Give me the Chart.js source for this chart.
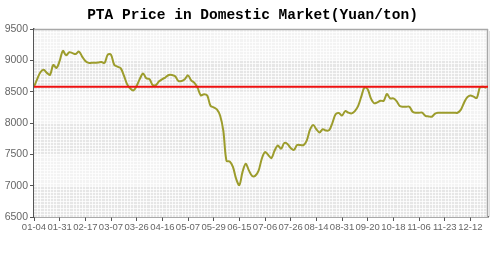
<!DOCTYPE html>
<html>
<head>
<meta charset="utf-8">
<script src="https://cdn.jsdelivr.net/npm/chart.js@4.4.1/dist/chart.umd.min.js"></script>
<style>
  html, body { margin: 0; padding: 0; background: #ffffff; }
  #wrap { width: 500px; height: 261px; }
</style>
</head>
<body>
<div id="wrap"><canvas id="c" width="500" height="261"></canvas></div>
<script>
const titleText = 'PTA Price in Domestic Market(Yuan/ton)';
const tickLabels = ['01-04','01-31','02-17','03-07','03-26','04-16','05-07','05-29','06-15','07-06','07-26','08-14','08-31','09-20','10-18','11-06','11-23','12-12'];
const pointsPerTick = 8;
const yTicks = [6500, 7000, 7500, 8000, 8500, 9000, 9500];
const priceValues = [
  8580, 8700, 8810, 8850, 8800, 8770, 8925, 8880, 8990, 9150,
  9080, 9130, 9115, 9100, 9140, 9060, 8990, 8960, 8960, 8960,
  8965, 8975, 8960, 9090, 9090, 8930, 8900, 8875, 8760, 8620,
  8550, 8520, 8595, 8705, 8790, 8713, 8700, 8606, 8606, 8665,
  8700, 8729, 8765, 8765, 8745, 8670, 8670, 8700, 8760, 8680,
  8640, 8560, 8440, 8460, 8440, 8275, 8250, 8218, 8120, 7880,
  7395, 7385, 7301, 7110, 7010, 7220, 7350, 7240, 7155, 7160,
  7240, 7430, 7535, 7490, 7440, 7560, 7640, 7590, 7680, 7665,
  7600, 7570, 7648, 7648, 7648, 7720, 7890, 7970, 7900, 7850,
  7900, 7880, 7885, 8000, 8140, 8160, 8120, 8190, 8165, 8154,
  8190, 8270, 8420, 8570, 8540, 8393, 8315, 8330, 8355, 8355,
  8462, 8393, 8393, 8350, 8270, 8259, 8259, 8259, 8180, 8164,
  8164, 8164, 8115, 8105, 8100, 8150, 8164, 8164, 8164, 8164,
  8164, 8164, 8164, 8210, 8320, 8410, 8440, 8420, 8400, 8569,
  8579, 8560
];
const referenceLevel = 8580;

const lineData = priceValues.map((v, i) => ({ x: i, y: v }));
const refData = [{ x: 0, y: referenceLevel }, { x: priceValues.length - 0.5, y: referenceLevel }];

const bgPlugin = {
  id: 'bg',
  beforeDatasetsDraw(chart) {
    const { ctx, chartArea: a, scales } = chart;
    const ys = scales.y, xs = scales.x;
    ctx.save();
    for (let k = 0; k < yTicks.length - 1; k++) {
      const y1 = ys.getPixelForValue(yTicks[k]);
      const y2 = ys.getPixelForValue(yTicks[k + 1]);
      ctx.fillStyle = (k % 2 === 0) ? '#e6e6e6' : '#f3f3f3';
      ctx.fillRect(a.left, y2, a.right - a.left, y1 - y2);
    }
    ctx.strokeStyle = 'rgba(255,255,255,0.75)';
    ctx.lineWidth = 1;
    ctx.beginPath();
    for (let i = 1; i < priceValues.length; i++) {
      const x = Math.round(xs.getPixelForValue(i)) + 0.5;
      if (x >= a.right) break;
      ctx.moveTo(x, a.top); ctx.lineTo(x, a.bottom);
    }
    for (let v = 6550; v < 9500; v += 50) {
      const y = Math.round(ys.getPixelForValue(v)) + 0.5;
      ctx.moveTo(a.left, y); ctx.lineTo(a.right, y);
    }
    ctx.stroke();
    ctx.strokeStyle = '#a8a8a8';
    ctx.lineWidth = 1.5;
    ctx.beginPath();
    ctx.moveTo(a.left, a.top + 0.5); ctx.lineTo(a.right, a.top + 0.5);
    ctx.moveTo(a.right - 0.5, a.top); ctx.lineTo(a.right - 0.5, a.bottom);
    ctx.stroke();
    ctx.strokeStyle = 'rgba(0,0,0,0.12)';
    ctx.lineWidth = 1;
    ctx.beginPath();
    ctx.moveTo(a.right + 1.5, a.top + 2); ctx.lineTo(a.right + 1.5, a.bottom);
    ctx.stroke();
    ctx.restore();
  }
};

const titlePlugin = {
  id: 'titleText',
  afterDraw(chart) {
    const ctx = chart.ctx;
    ctx.save();
    ctx.fillStyle = '#000000';
    ctx.font = 'bold 14.5px "Liberation Mono", "DejaVu Sans Mono", monospace';
    ctx.textAlign = 'center';
    ctx.textBaseline = 'middle';
    ctx.fillText(titleText, 252.5, 15);
    ctx.restore();
  }
};

new Chart(document.getElementById('c'), {
  type: 'line',
  data: {
    datasets: [
      {
        data: lineData,
        borderColor: '#9c9c2c',
        borderWidth: 2,
        pointRadius: 0,
        tension: 0.35,
        fill: false,
        order: 2
      },
      {
        data: refData,
        borderColor: '#ee1111',
        borderWidth: 2,
        pointRadius: 0,
        tension: 0,
        fill: false,
        order: 1
      }
    ]
  },
  options: {
    responsive: false,
    animation: false,
    events: [],
    layout: { padding: { left: 0, right: 12, top: 29, bottom: 0 } },
    plugins: {
      legend: { display: false },
      tooltip: { enabled: false },
      title: { display: false }
    },
    scales: {
      x: {
        type: 'linear',
        min: 0,
        max: priceValues.length - 0.5,
        afterBuildTicks(scale) {
          scale.ticks = tickLabels.map((_, i) => ({ value: i * pointsPerTick }));
        },
        afterFit(scale) { scale.height = 44; },
        border: { display: true, color: '#555555', width: 1.5 },
        grid: { display: true, drawOnChartArea: false, drawTicks: true, tickLength: 4, color: '#555555' },
        ticks: {
          autoSkip: false,
          maxRotation: 0,
          padding: 1,
          color: '#666666',
          font: { family: '"Liberation Sans", Arial, sans-serif', size: 9.5 },
          callback(value) {
            const idx = Math.round(value / pointsPerTick);
            return tickLabels[idx] !== undefined ? tickLabels[idx] : '';
          }
        }
      },
      y: {
        min: 6500,
        max: 9500,
        afterBuildTicks(scale) {
          scale.ticks = yTicks.map(v => ({ value: v }));
        },
        afterFit(scale) { scale.width = 34; },
        border: { display: true, color: '#555555', width: 1.5 },
        grid: { display: true, drawOnChartArea: false, drawTicks: true, tickLength: 4, color: '#555555' },
        ticks: {
          padding: 2,
          color: '#666666',
          font: { family: '"Liberation Sans", Arial, sans-serif', size: 10.5 },
          callback(value) { return String(value); }
        }
      }
    }
  },
  plugins: [bgPlugin, titlePlugin]
});
</script>
</body>
</html>
